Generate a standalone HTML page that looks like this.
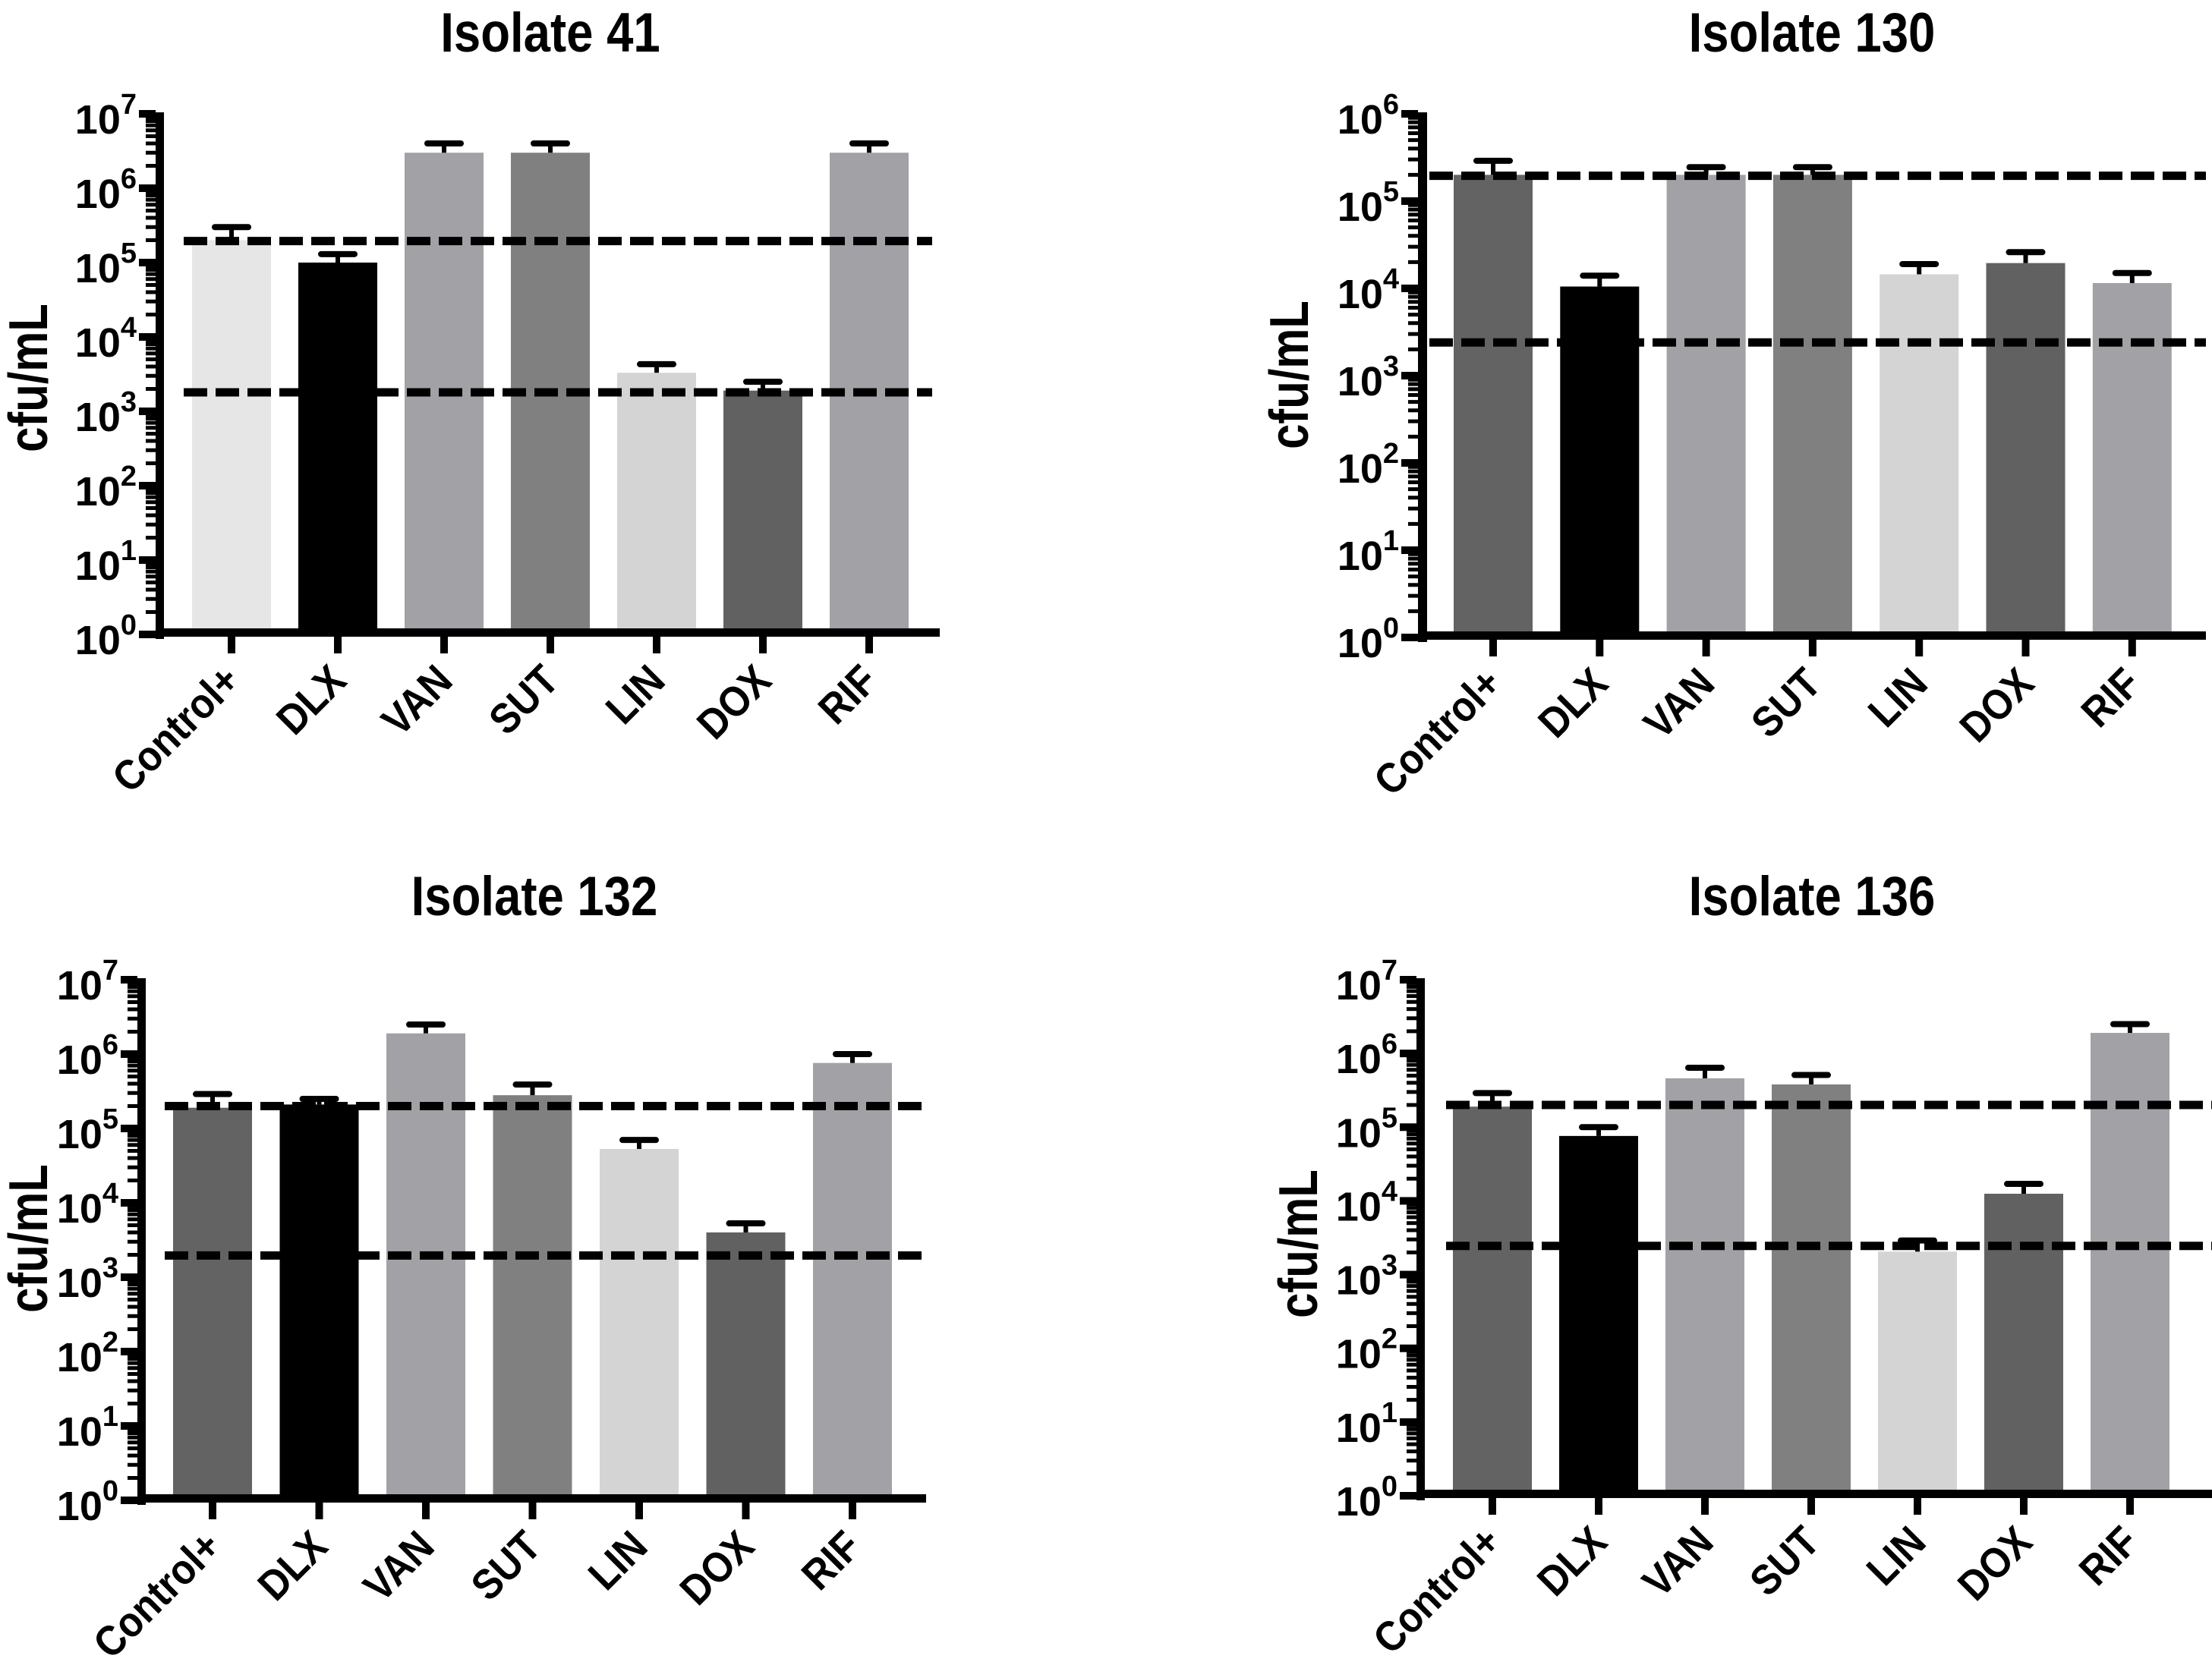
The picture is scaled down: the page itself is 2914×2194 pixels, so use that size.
<!DOCTYPE html>
<html><head><meta charset="utf-8"><style>
html,body{margin:0;padding:0;background:#fff;}
svg{display:block;font-family:"Liberation Sans",Arial,sans-serif;font-weight:bold;}
</style></head><body>
<svg id="fig" width="2914" height="2194" viewBox="0 0 2914 2194" xmlns="http://www.w3.org/2000/svg"></svg>
<script>
const categories = ["Control+","DLX","VAN","SUT","LIN","DOX","RIF"];
const titles = ["Isolate 41","Isolate 130","Isolate 132","Isolate 136"];
const values41  = [2e5, 1e5, 3e6, 3e6, 3.3e3, 1.9e3, 3e6];
const errors41  = [3e5, 1.3e5, 4e6, 4e6, 4.3e3, 2.5e3, 4e6];
const values130 = [2e5, 1.05e4, 2e5, 2e5, 1.45e4, 1.95e4, 1.15e4];
const errors130 = [2.9e5, 1.4e4, 2.45e5, 2.45e5, 1.9e4, 2.6e4, 1.5e4];
const values132 = [1.9e5, 2.1e5, 1.9e6, 2.8e5, 5.3e4, 4e3, 7.6e5];
const errors132 = [2.9e5, 2.5e5, 2.5e6, 3.9e5, 7e4, 5.3e3, 1e6];
const values136 = [1.9e5, 7.6e4, 4.6e5, 3.8e5, 2.05e3, 1.25e4, 1.9e6];
const errors136 = [2.9e5, 1e5, 6.4e5, 5.1e5, 2.9e3, 1.7e4, 2.5e6];
const thresholds41 = [1.95e5, 1.8e3];
const thresholds130 = [1.95e5, 2.4e3];
const thresholds132 = [2e5, 1.96e3];
const thresholds136 = [2e5, 2.45e3];
const yMaxExp = [7, 6, 7, 7];

const colors41 = ["#e6e6e6","#000000","#a2a1a6","#808080","#d4d4d4","#616161","#a2a1a6"];
const colorsOther = ["#636363","#000000","#a2a1a6","#808080","#d4d4d4","#616161","#a2a1a6"];

const NS = "http://www.w3.org/2000/svg";
const svg = document.getElementById("fig");
function mk(tag, attrs, parent){
  const e = document.createElementNS(NS, tag);
  for (const k in attrs) e.setAttribute(k, attrs[k]);
  (parent||svg).appendChild(e);
  return e;
}

const panels = [
  {axL:205, axR:216, top:150, bottom:836, xEnd:1238, x0:305, step:140, bw:104, dashX0:242, dashX1:1228, titleX:725, titleY:68, ytX:38, ytY:498, vals:values41, errs:errors41, thr:thresholds41, cols:colors41},
  {axL:1868, axR:1880, top:150, bottom:840, xEnd:2906, x0:1967, step:140.3, bw:104, dashX0:1883, dashX1:2906, titleX:2387, titleY:68, ytX:1699, ytY:494, vals:values130, errs:errors130, thr:thresholds130, cols:colorsOther},
  {axL:181, axR:192, top:1291, bottom:1977, xEnd:1220, x0:280, step:140.5, bw:104, dashX0:217, dashX1:1217, titleX:704, titleY:1206, ytX:38, ytY:1632, vals:values132, errs:errors132, thr:thresholds132, cols:colorsOther},
  {axL:1866, axR:1877, top:1291, bottom:1971, xEnd:2914, x0:1966, step:140, bw:104, dashX0:1905, dashX1:2914, titleX:2387, titleY:1206, ytX:1711, ytY:1639, vals:values136, errs:errors136, thr:thresholds136, cols:colorsOther}
];

panels.forEach((p, pi) => {
  const g = mk("g", {});
  
  
  const maxE = yMaxExp[pi];
  const dec = (p.bottom - p.top) / maxE;
  const yScale = v => p.bottom - Math.log10(v) * dec;
  const xScale = i => p.x0 + i * p.step;

  const t = mk("text", {x:0, y:0, "text-anchor":"middle", "font-size":73, transform:`translate(${p.titleX},${p.titleY}) scale(0.87,1)`}, g);
  t.textContent = titles[pi];
  
  

  const yt = mk("text", {x:0, y:0, "text-anchor":"middle", "font-size":72, transform:`translate(${p.ytX+24},${p.ytY}) rotate(-90) scale(0.83,1)`}, g);
  yt.textContent = "cfu/mL";
  
  

  p.vals.forEach((v, i) => {
    const cx = xScale(i);
    const yt2 = yScale(v);
    const r = mk("rect", {x:cx - p.bw/2, y:yt2, width:p.bw, height:p.bottom - yt2, fill:p.cols[i]}, g);
    
    
    const ye = yScale(p.errs[i]);
    const st = mk("line", {x1:cx, x2:cx, y1:yt2, y2:ye, stroke:"#000", "stroke-width":6}, g);
    
    
    const cap = mk("line", {x1:cx-22, x2:cx+22, y1:ye, y2:ye, stroke:"#000", "stroke-width":8, "stroke-linecap":"round"}, g);
    
    
  });

  p.thr.forEach((v, k) => {
    const y = yScale(v);
    const d = mk("line", {x1:p.dashX0, x2:p.dashX1, y1:y, y2:y, stroke:"#000", "stroke-width":11, "stroke-dasharray":"31 11"}, g);
    
    
  });

  const ya = mk("rect", {x:p.axL, y:p.top - 2, width:p.axR - p.axL, height:p.bottom - p.top + 8, fill:"#000"}, g);
  
  
  for (let e = 0; e <= maxE; e++) {
    const y = yScale(Math.pow(10, e));
    mk("rect", {x:p.axL - 22, y:y - 5, width:22, height:10, fill:"#000"}, g);
    if (e < maxE) {
      for (let m = 2; m <= 9; m++) {
        const ym = yScale(m * Math.pow(10, e));
        mk("rect", {x:p.axL - 13, y:ym - 2.5, width:13, height:5, fill:"#000"}, g);
      }
    }
    const lab = mk("text", {x:p.axL - 25, y:y + 26, "text-anchor":"end", "font-size":54}, g);
    
    
    const t1 = mk("tspan", {}, lab); t1.textContent = "10";
    const t2 = mk("tspan", {"font-size":38, dy:-26}, lab); t2.textContent = String(e);
  }

  const xa = mk("rect", {x:p.axL, y:p.bottom - 8, width:p.xEnd - p.axL, height:11, fill:"#000"}, g);
  
  
  categories.forEach((c, i) => {
    const cx = xScale(i);
    mk("rect", {x:cx - 5, y:p.bottom, width:10, height:25, fill:"#000"}, g);
    const lt = mk("text", {x:0, y:0, "text-anchor":"end", "font-size":56, transform:`translate(${cx+14},${p.bottom+64}) rotate(-45) scale(0.9,1)`}, g);
    lt.textContent = c;
    
    
  });
});
</script>
</body></html>
